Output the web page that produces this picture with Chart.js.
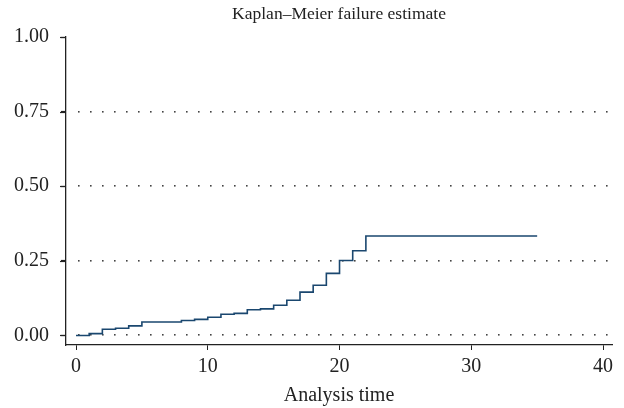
<!DOCTYPE html>
<html><head><meta charset="utf-8">
<script src="https://cdn.jsdelivr.net/npm/chart.js@4.4.0/dist/chart.umd.min.js"></script>
<style>html,body{margin:0;padding:0;background:#fff;}</style>
</head><body>
<canvas id="c" width="624" height="408" style="display:block;width:624px;height:408px"></canvas>
<script>
// ---- data ----
const times = [0, 1, 2, 3, 4, 5, 8, 9, 10, 11, 12, 13, 14, 15, 16, 17, 18, 19, 20, 21, 22, 35];
const failure = [0, 0.006, 0.021, 0.024, 0.032, 0.045, 0.050, 0.054, 0.061, 0.071, 0.074, 0.086, 0.089, 0.101, 0.118, 0.145, 0.168, 0.208, 0.251, 0.284, 0.333, 0.333];
const xTickValues = [0, 10, 20, 30, 40];
const yTickValues = [0, 0.25, 0.5, 0.75, 1];
const titleText = 'Kaplan\u2013Meier failure estimate';
const xTitleText = 'Analysis time';

const FONT = "'Liberation Serif','DejaVu Serif',serif";
const INK = '#222';

const dotGrid = {
  id: 'dotGrid',
  beforeDatasetsDraw(chart) {
    const { ctx, chartArea, scales } = chart;
    const y = scales.y;
    ctx.save();
    ctx.fillStyle = '#444';
    yTickValues.forEach(v => {
      if (v >= 1) return;
      const py = Math.round(y.getPixelForValue(v));
      for (let x = chartArea.left + 13; x <= chartArea.right - 3; x += 12) {
        ctx.fillRect(Math.round(x) - 1, py - 1, 1.6, 1.6);
      }
    });
    ctx.restore();
  },
  afterDraw(chart) {
    const { ctx, scales } = chart;
    const y = scales.y;
    ctx.save();
    ctx.strokeStyle = INK;
    ctx.lineWidth = 1.2;
    yTickValues.forEach(v => {
      const py = Math.round(y.getPixelForValue(v)) + 0.5;
      ctx.beginPath();
      ctx.moveTo(y.right - 6, py);
      ctx.lineTo(y.right, py);
      ctx.stroke();
    });
    ctx.restore();
  }
};

new Chart(document.getElementById('c'), {
  type: 'line',
  data: {
    datasets: [{
      data: times.map((t, i) => ({ x: t, y: failure[i] })),
      stepped: 'before',
      borderColor: '#1a476f',
      borderWidth: 1.6,
      pointRadius: 0,
      fill: false
    }]
  },
  plugins: [dotGrid],
  options: {
    responsive: false,
    animation: false,
    devicePixelRatio: 1,
    layout: { padding: { left: 0, right: 12, top: 0, bottom: 0 } },
    plugins: {
      legend: { display: false },
      tooltip: { enabled: false },
      title: {
        display: true, text: titleText, color: INK, fullSize: false,
        font: { family: FONT, size: 17.5, weight: 'normal', lineHeight: 1.2 },
        padding: { top: 4, bottom: 12 }
      }
    },
    scales: {
      x: {
        type: 'linear', min: -0.76, max: 40.68,
        afterBuildTicks: s => { s.ticks = xTickValues.map(v => ({ value: v })); },
        afterFit: s => { s.height = 63; },
        grid: { drawOnChartArea: false, drawTicks: true, tickLength: 5, tickColor: INK, tickWidth: 1 },
        border: { display: true, color: INK, width: 1.3 },
        ticks: { color: INK, font: { family: FONT, size: 20 }, padding: 5, maxRotation: 0, autoSkip: false },
        title: { display: true, text: xTitleText, color: INK, font: { family: FONT, size: 20 }, padding: { top: 0, bottom: 0 } }
      },
      y: {
        type: 'linear', min: -0.032, max: 1,
        afterBuildTicks: s => { s.ticks = yTickValues.map(v => ({ value: v })); },
        afterFit: s => { s.width = 66; },
        grid: { drawOnChartArea: false, drawTicks: true, tickLength: 5, tickColor: INK, tickWidth: 1.2 },
        border: { display: true, color: INK, width: 1.3 },
        ticks: { color: INK, font: { family: FONT, size: 20 }, padding: 12, callback: v => Number(v).toFixed(2) }
      }
    }
  }
});
</script>
</body></html>
